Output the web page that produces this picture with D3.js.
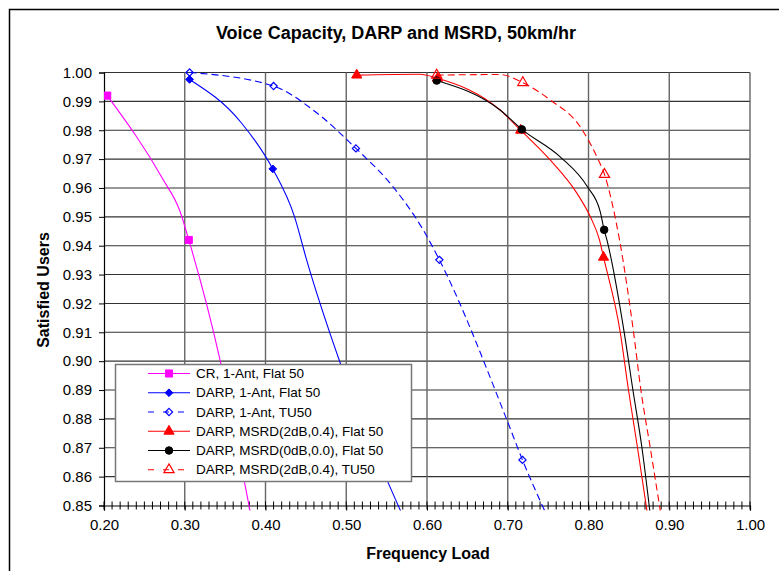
<!DOCTYPE html>
<html>
<head>
<meta charset="utf-8">
<script src="https://cdn.jsdelivr.net/npm/d3@7"></script>
<style>
  body { margin: 0; background: #fff; }
  text { font-family: "Liberation Sans", Arial, sans-serif; }
</style>
</head>
<body>
<div id="chart"></div>
<script>
// Values.
const crLoad = [0.204, 0.273, 0.294, 0.305, 0.344, 0.374, 0.381];
const crUsers = [0.992, 0.963, 0.952, 0.942, 0.900, 0.858, 0.848];
const crMarks = [0, 3];

const darpFlatLoad = [0.306, 0.370, 0.409, 0.436, 0.451, 0.493, 0.5675];
const darpFlatUsers = [0.9976, 0.9826, 0.9666, 0.950, 0.935, 0.899, 0.848];
const darpFlatMarks = [0, 2];

const darpTuLoad = [0.306, 0.410, 0.459, 0.512, 0.558, 0.5954, 0.6153, 0.699, 0.7182, 0.746];
const darpTuUsers = [1.000, 0.9953, 0.987, 0.9737, 0.9604, 0.9454, 0.9351, 0.8796, 0.8658, 0.848];
const darpTuMarks = [0, 1, 3, 6, 8];

const msrd2FlatLoad = [0.513, 0.591, 0.613, 0.6905, 0.716, 0.7525, 0.7856, 0.8021, 0.8136, 0.8186, 0.8393, 0.8495, 0.8607, 0.8725];
const msrd2FlatUsers = [0.9991, 0.9994, 0.998, 0.987, 0.980, 0.9697, 0.9582, 0.9501, 0.942, 0.936, 0.910, 0.890, 0.870, 0.848];
const msrd2FlatMarks = [0, 2, 4, 9];

const msrd0FlatLoad = [0.612, 0.6905, 0.7174, 0.7649, 0.7987, 0.8145, 0.8194, 0.8228, 0.8442, 0.855, 0.8662, 0.876];
const msrd0FlatUsers = [0.9972, 0.987, 0.9803, 0.9708, 0.9604, 0.9518, 0.9455, 0.942, 0.910, 0.890, 0.870, 0.848];
const msrd0FlatMarks = [0, 2, 6];

const msrd2TuLoad = [0.612, 0.6905, 0.7187, 0.7525, 0.7897, 0.8104, 0.8198, 0.8384, 0.8558, 0.8649, 0.8765, 0.889];
const msrd2TuUsers = [0.9991, 0.9993, 0.9965, 0.9905, 0.9812, 0.9708, 0.9647, 0.942, 0.910, 0.890, 0.870, 0.848];
const msrd2TuMarks = [0, 2, 6];

const seriesNames = [
  "CR, 1-Ant, Flat 50",
  "DARP, 1-Ant, Flat 50",
  "DARP, 1-Ant, TU50",
  "DARP, MSRD(2dB,0.4), Flat 50",
  "DARP, MSRD(0dB,0.0), Flat 50",
  "DARP, MSRD(2dB,0.4), TU50",
];

const xTicks = [0.2, 0.3, 0.4, 0.5, 0.6, 0.7, 0.8, 0.9, 1.0];
const yTicks = [0.85, 0.86, 0.87, 0.88, 0.89, 0.90, 0.91, 0.92, 0.93, 0.94, 0.95, 0.96, 0.97, 0.98, 0.99, 1.00];

// Square rotated 45 degrees, for the Excel style diamond marker
const squareDiamond = {
  draw(context, size) {
    const r = Math.sqrt(size) / 2 * Math.SQRT2;
    context.moveTo(0, -r);
    context.lineTo(r, 0);
    context.lineTo(0, r);
    context.lineTo(-r, 0);
    context.closePath();
  }
};

// Series styling
const series = [
  { name: seriesNames[0], load: crLoad, users: crUsers, marks: crMarks,
    color: "#ff00ff", dash: null, symbol: d3.symbolSquare, size: 50, open: false },
  { name: seriesNames[1], load: darpFlatLoad, users: darpFlatUsers, marks: darpFlatMarks,
    color: "#0000ff", dash: null, symbol: squareDiamond, size: 30, open: false },
  { name: seriesNames[2], load: darpTuLoad, users: darpTuUsers, marks: darpTuMarks,
    color: "#0000ff", dash: "7,4", symbol: squareDiamond, size: 26, open: true },
  { name: seriesNames[3], load: msrd2FlatLoad, users: msrd2FlatUsers, marks: msrd2FlatMarks,
    color: "#ff0000", dash: null, symbol: d3.symbolTriangle, size: 45, open: false },
  { name: seriesNames[4], load: msrd0FlatLoad, users: msrd0FlatUsers, marks: msrd0FlatMarks,
    color: "#000000", dash: null, symbol: d3.symbolCircle, size: 45, open: false },
  { name: seriesNames[5], load: msrd2TuLoad, users: msrd2TuUsers, marks: msrd2TuMarks,
    color: "#ff0000", dash: "7,4", symbol: d3.symbolTriangle, size: 45, open: true },
];

const width = 779;
const height = 571;
const plot = { left: 104, right: 750, top: 72.5, bottom: 505.5 };

const svg = d3.select("#chart")
  .append("svg")
    .attr("width", width)
    .attr("height", height);

// Outer chart border (right/bottom edges fall off the picture).
svg.append("rect")
  .attr("x", 9.5).attr("y", 9.5)
  .attr("width", 800).attr("height", 600)
  .attr("fill", "#fff")
  .attr("stroke", "#000")
  .attr("stroke-width", 1.5);

const x = d3.scaleLinear().domain([0.2, 1.0]).range([plot.left, plot.right]);
const y = d3.scaleLinear().domain([0.85, 1.0]).range([plot.bottom, plot.top]);

// Gridlines
const grid = svg.append("g");
grid.selectAll(".hgrid")
  .data(yTicks.slice(1))
  .enter().append("line")
    .attr("x1", plot.left).attr("x2", plot.right)
    .attr("y1", d => y(d)).attr("y2", d => y(d))
    .attr("stroke", "#333")
    .attr("stroke-width", 1.1);
grid.selectAll(".vgrid")
  .data(xTicks.slice(1))
  .enter().append("line")
    .attr("x1", d => x(d)).attr("x2", d => x(d))
    .attr("y1", plot.top).attr("y2", plot.bottom)
    .attr("stroke", "#666")
    .attr("stroke-width", 1.4);

// Y axis
const yAxis = svg.append("g")
  .attr("transform", `translate(${plot.left},0)`)
  .call(d3.axisLeft(y).tickValues(yTicks).tickFormat(d3.format(".2f")).tickSize(5).tickPadding(7));
yAxis.select(".domain").attr("stroke", "#000").attr("stroke-width", 1.2);
yAxis.selectAll(".tick line").attr("stroke", "#000");
yAxis.selectAll(".tick text")
  .attr("font-size", 15)
  .attr("font-family", "Liberation Sans, Arial, sans-serif")
  .attr("fill", "#000");

// X axis with minor ticks crossing the axis line
const xAxis = svg.append("g")
  .attr("transform", `translate(0,${plot.bottom})`)
  .call(d3.axisBottom(x).tickValues(xTicks).tickFormat(d3.format(".2f")).tickSize(5).tickPadding(9));
xAxis.select(".domain").attr("stroke", "#000").attr("stroke-width", 1.2);
xAxis.selectAll(".tick line").attr("stroke", "#000");
xAxis.selectAll(".tick text")
  .attr("font-size", 15)
  .attr("font-family", "Liberation Sans, Arial, sans-serif")
  .attr("fill", "#000");

const minorTicks = d3.range(20, 101).map(d => d / 100);
svg.append("g").selectAll("line")
  .data(minorTicks)
  .enter().append("line")
    .attr("x1", d => x(d)).attr("x2", d => x(d))
    .attr("y1", plot.bottom - 4).attr("y2", plot.bottom + 4)
    .attr("stroke", "#000")
    .attr("stroke-width", 1);

// Clip series to (slightly beyond) the plot area, like the original
svg.append("clipPath").attr("id", "plotClip")
  .append("rect")
    .attr("x", plot.left).attr("y", plot.top - 6)
    .attr("width", plot.right - plot.left)
    .attr("height", plot.bottom - plot.top + 11);

const line = d3.line()
  .x(d => x(d[0]))
  .y(d => y(d[1]))
  .curve(d3.curveMonotoneX);

const layer = svg.append("g").attr("clip-path", "url(#plotClip)");

function drawMarker(g, s, cx, cy) {
  g.append("path")
    .attr("d", d3.symbol().type(s.symbol).size(s.size)())
    .attr("transform", `translate(${cx},${cy})`)
    .attr("fill", s.open ? "none" : s.color)
    .attr("stroke", s.color)
    .attr("stroke-width", s.open ? 1.2 : 1);
}

series.forEach(s => {
  const pts = s.load.map((d, i) => [d, s.users[i]]);
  layer.append("path")
    .attr("d", line(pts))
    .attr("fill", "none")
    .attr("stroke", s.color)
    .attr("stroke-width", 1.1)
    .attr("stroke-dasharray", s.dash);
  s.marks.forEach(i => drawMarker(layer, s, x(pts[i][0]), y(pts[i][1])));
});

// Legend
const legend = svg.append("g");
legend.append("rect")
  .attr("x", 115.5).attr("y", 364.5)
  .attr("width", 296).attr("height", 117)
  .attr("fill", "#fff")
  .attr("stroke", "#777")
  .attr("stroke-width", 1.5);

series.forEach((s, i) => {
  const ly = 373.5 + i * 19.25;
  legend.append("line")
    .attr("x1", 148).attr("x2", 190)
    .attr("y1", ly).attr("y2", ly)
    .attr("stroke", s.color)
    .attr("stroke-width", 1.1)
    .attr("stroke-dasharray", s.dash ? "6,9" : null);
  drawMarker(legend, s, 169, ly);
  legend.append("text")
    .attr("x", 196).attr("y", ly)
    .attr("dy", "0.35em")
    .attr("font-size", 13.5)
    .text(s.name);
});

// Titles
svg.append("text")
  .attr("x", 396).attr("y", 39)
  .attr("text-anchor", "middle")
  .attr("font-size", 18)
  .attr("font-weight", "bold")
  .text("Voice Capacity, DARP and MSRD, 50km/hr");

svg.append("text")
  .attr("x", 428).attr("y", 559)
  .attr("text-anchor", "middle")
  .attr("font-size", 16)
  .attr("font-weight", "bold")
  .text("Frequency Load");

svg.append("text")
  .attr("transform", "translate(49,290) rotate(-90)")
  .attr("text-anchor", "middle")
  .attr("font-size", 16)
  .attr("font-weight", "bold")
  .text("Satisfied Users");
</script>
</body>
</html>
